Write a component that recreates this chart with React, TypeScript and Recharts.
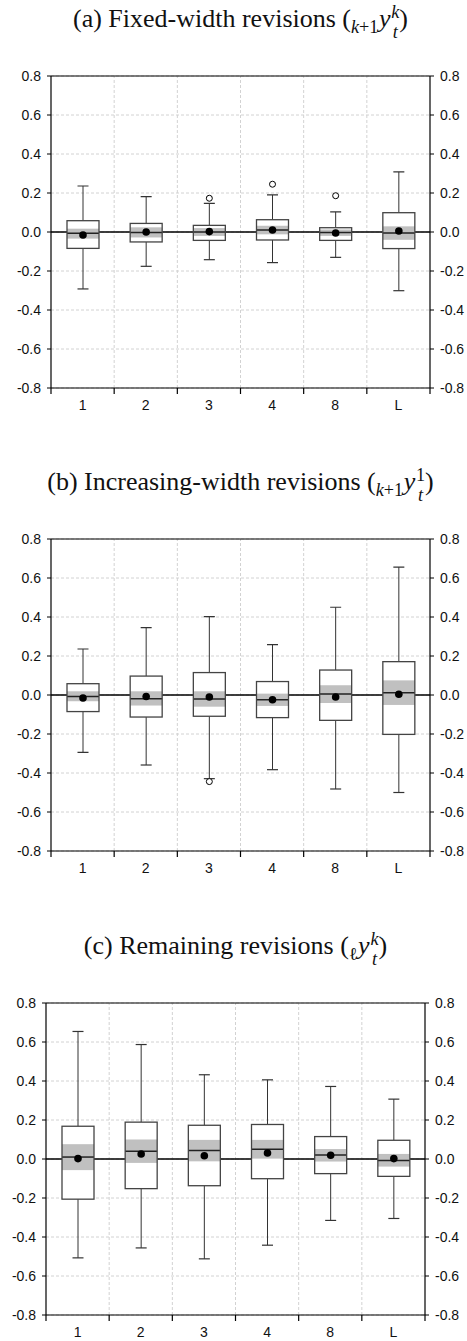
import React from 'react';
import {
  ComposedChart,
  Bar,
  XAxis,
  YAxis,
  CartesianGrid,
  ReferenceLine
} from 'recharts';

const CATEGORIES = ['1', '2', '3', '4', '8', 'L'];
const Y_TICKS = [-0.8, -0.6, -0.4, -0.2, 0, 0.2, 0.4, 0.6, 0.8];
// bottom axis: tick marks on the category edges, labels in the middle of each band
const EDGE_TICKS = [0, 0.5, 1, 1.5, 2, 2.5, 3, 3.5, 4, 4.5, 5, 5.5, 6];
const GRID_X = [1, 2, 3, 4, 5];

// (a) fixed-width revisions
const A_MIN = [-0.292, -0.176, -0.142, -0.157, -0.13, -0.301];
const A_Q1 = [-0.084, -0.051, -0.043, -0.041, -0.043, -0.085];
const A_MED = [-0.007, -0.003, 0.0, 0.01, -0.002, -0.005];
const A_Q3 = [0.058, 0.044, 0.034, 0.063, 0.022, 0.099];
const A_MAX = [0.236, 0.181, 0.147, 0.19, 0.103, 0.308];
const A_MEAN = [-0.015, 0.0, 0.002, 0.01, -0.005, 0.005];
const A_NOTCH_LO = [-0.034, -0.028, -0.02, -0.012, -0.02, -0.04];
const A_NOTCH_HI = [0.017, 0.024, 0.02, 0.032, 0.013, 0.029];
const A_OUT = [[], [], [0.173], [0.245], [0.186], []];

// (b) increasing-width revisions
const B_MIN = [-0.294, -0.359, -0.429, -0.383, -0.482, -0.5];
const B_Q1 = [-0.085, -0.113, -0.109, -0.116, -0.13, -0.202];
const B_MED = [-0.008, -0.019, -0.02, -0.024, 0.005, 0.012];
const B_Q3 = [0.058, 0.097, 0.115, 0.069, 0.128, 0.171];
const B_MAX = [0.236, 0.346, 0.402, 0.258, 0.45, 0.656];
const B_MEAN = [-0.015, -0.008, -0.01, -0.024, -0.01, 0.004];
const B_NOTCH_LO = [-0.032, -0.054, -0.06, -0.056, -0.041, -0.051];
const B_NOTCH_HI = [0.019, 0.019, 0.019, 0.007, 0.05, 0.075];
const B_OUT = [[], [], [-0.444], [], [], []];

// (c) remaining revisions
const C_MIN = [-0.507, -0.456, -0.512, -0.442, -0.315, -0.305];
const C_Q1 = [-0.206, -0.152, -0.137, -0.101, -0.075, -0.089];
const C_MED = [0.01, 0.04, 0.043, 0.05, 0.021, -0.008];
const C_Q3 = [0.168, 0.189, 0.173, 0.177, 0.115, 0.096];
const C_MAX = [0.654, 0.587, 0.432, 0.406, 0.372, 0.307];
const C_MEAN = [0.002, 0.026, 0.017, 0.031, 0.019, 0.002];
const C_NOTCH_LO = [-0.057, -0.02, -0.012, 0.002, -0.013, -0.039];
const C_NOTCH_HI = [0.076, 0.1, 0.098, 0.098, 0.051, 0.026];
const C_OUT = [[], [], [], [], [], []];

const AXIS_FONT = '"Liberation Sans", Arial, Helvetica, sans-serif';
const TITLE_FONT = '"Liberation Serif", "Times New Roman", serif';

function buildRows(min: number[], q1: number[], med: number[], q3: number[], max: number[],
  mean: number[], nlo: number[], nhi: number[], out: number[][]) {
  return CATEGORIES.map((label, i) => ({
    label,
    pos: i + 0.5,
    min: min[i],
    q1: q1[i],
    med: med[i],
    q3: q3[i],
    max: max[i],
    mean: mean[i],
    nlo: nlo[i],
    nhi: nhi[i],
    out: out[i]
  }));
}

const rowsA = buildRows(A_MIN, A_Q1, A_MED, A_Q3, A_MAX, A_MEAN, A_NOTCH_LO, A_NOTCH_HI, A_OUT);
const rowsB = buildRows(B_MIN, B_Q1, B_MED, B_Q3, B_MAX, B_MEAN, B_NOTCH_LO, B_NOTCH_HI, B_OUT);
const rowsC = buildRows(C_MIN, C_Q1, C_MED, C_Q3, C_MAX, C_MEAN, C_NOTCH_LO, C_NOTCH_HI, C_OUT);

// the bar gives the pixel span of [q1, q3]; everything else is placed on the same linear scale
function BoxShape(props: any) {
  const { x, y, width, height, payload } = props;
  if (payload == null || !isFinite(y) || !isFinite(height)) return null;
  const top = Math.min(y, y + height);
  const h = Math.abs(height);
  const k = h / (payload.q3 - payload.q1);
  const py = (v: number) => top + (payload.q3 - v) * k;
  const cx = x + width / 2;
  const cap = 5.5;
  return (
    <g>
      <line x1={cx} x2={cx} y1={py(payload.max)} y2={top} stroke="#333" strokeWidth={1} />
      <line x1={cx} x2={cx} y1={top + h} y2={py(payload.min)} stroke="#333" strokeWidth={1} />
      <line x1={cx - cap} x2={cx + cap} y1={py(payload.max)} y2={py(payload.max)} stroke="#333" strokeWidth={1.2} />
      <line x1={cx - cap} x2={cx + cap} y1={py(payload.min)} y2={py(payload.min)} stroke="#333" strokeWidth={1.2} />
      <rect x={x} y={top} width={width} height={h} fill="#fff" />
      <rect x={x} y={py(payload.nhi)} width={width} height={py(payload.nlo) - py(payload.nhi)} fill="#c0c0c0" />
      <line x1={x} x2={x + width} y1={py(payload.med)} y2={py(payload.med)} stroke="#222" strokeWidth={1.5} />
      <rect x={x} y={top} width={width} height={h} fill="none" stroke="#444" strokeWidth={1.3} />
      <circle cx={cx} cy={py(payload.mean)} r={3.8} fill="#000" />
      {payload.out.map((v: number, j: number) => (
        <circle key={j} cx={cx} cy={py(v)} r={3} fill="#fff" stroke="#000" strokeWidth={1} />
      ))}
    </g>
  );
}

function EdgeTick(props: any) {
  const { x, y, payload } = props;
  const v = payload.value;
  if (Number.isInteger(v)) {
    return <line x1={x} x2={x} y1={y} y2={y + 6} stroke="#000" strokeWidth={1.2} />;
  }
  return (
    <text x={x} y={y + 22} textAnchor="middle" fill="#111" fontSize={14} fontFamily={AXIS_FONT}>
      {CATEGORIES[Math.floor(v)]}
    </text>
  );
}

const fmtY = (v: number) => v.toFixed(1);

function BoxChart({ rows, top, left }: { rows: any[]; top: number; left: number }) {
  const yProps = {
    domain: [-0.8, 0.8] as [number, number],
    ticks: Y_TICKS,
    interval: 0 as const,
    allowDataOverflow: true,
    tickFormatter: fmtY,
    tickSize: 4,
    tickMargin: 6,
    axisLine: { stroke: '#000', strokeWidth: 1.2 },
    tickLine: { stroke: '#000', strokeWidth: 1 },
    tick: { fill: '#111', fontSize: 14, fontFamily: AXIS_FONT }
  };
  return (
    <div style={{ position: 'absolute', top, left }}>
      <ComposedChart width={467} height={360} data={rows} margin={{ top: 10, right: 0, bottom: 0, left: 0 }}>
        <CartesianGrid yAxisId="left" vertical={false} stroke="#d2d2d2" strokeDasharray="3 2" />
        <XAxis xAxisId="cat" dataKey="label" type="category" hide height={0} />
        <XAxis
          xAxisId="edge"
          dataKey="pos"
          type="number"
          domain={[0, 6]}
          ticks={EDGE_TICKS}
          interval={0}
          allowDataOverflow
          tick={EdgeTick}
          tickLine={false}
          tickSize={0}
          tickMargin={0}
          height={38}
          axisLine={{ stroke: '#000', strokeWidth: 1.2 }}
        />
        <YAxis yAxisId="left" orientation="left" width={51} {...yProps} />
        <YAxis yAxisId="right" orientation="right" width={37} {...yProps} />
        {GRID_X.map((gx) => (
          <ReferenceLine key={gx} xAxisId="edge" yAxisId="left" x={gx} stroke="#d2d2d2" strokeDasharray="3 2" zIndex={0} />
        ))}
        <ReferenceLine xAxisId="edge" yAxisId="left" y={0} stroke="#000" strokeWidth={1.6} zIndex={0} />
        <ReferenceLine xAxisId="edge" yAxisId="left" y={0.8} stroke="#000" strokeWidth={1.2} />
        <Bar
          xAxisId="cat"
          yAxisId="left"
          dataKey={(d: any) => [d.q1, d.q3]}
          barSize={32}
          shape={BoxShape}
          isAnimationActive={false}
        />
      </ComposedChart>
    </div>
  );
}

const sub: React.CSSProperties = { fontSize: '0.7em', verticalAlign: '-0.3em', marginRight: '0.03em' };

function Stack({ up, down }: { up: React.ReactNode; down: React.ReactNode }) {
  return (
    <span style={{ display: 'inline-flex', flexDirection: 'column', fontSize: '0.7em', lineHeight: 1.12, verticalAlign: '0.5em', marginLeft: '0.04em' }}>
      <span>{up}</span>
      <span>{down}</span>
    </span>
  );
}

function Title({ top, left, children }: { top: number; left: number; children: React.ReactNode }) {
  return (
    <div style={{ position: 'absolute', top, left, width: 467, height: 30, lineHeight: '30px', textAlign: 'center', fontFamily: TITLE_FONT, fontSize: 26, color: '#111', whiteSpace: 'nowrap' }}>
      {children}
    </div>
  );
}

export default function App() {
  return (
    <div style={{ position: 'absolute', top: 0, left: 0, width: 467, height: 1341, background: '#fff', overflow: 'hidden' }}>
      <Title top={2} left={7}>
        (a) Fixed-width revisions (<span style={sub}><i>k</i>+1</span><i>y</i><Stack up={<i>k</i>} down={<i>t</i>} />)
      </Title>
      <BoxChart rows={rowsA} top={66} left={0} />
      <Title top={465} left={7}>
        (b) Increasing-width revisions (<span style={sub}><i>k</i>+1</span><i>y</i><Stack up="1" down={<i>t</i>} />)
      </Title>
      <BoxChart rows={rowsB} top={529} left={0} />
      <Title top={929} left={2}>
        (c) Remaining revisions (<span style={sub}>ℓ</span><i>y</i><Stack up={<i>k</i>} down={<i>t</i>} />)
      </Title>
      <BoxChart rows={rowsC} top={993} left={-5} />
    </div>
  );
}
